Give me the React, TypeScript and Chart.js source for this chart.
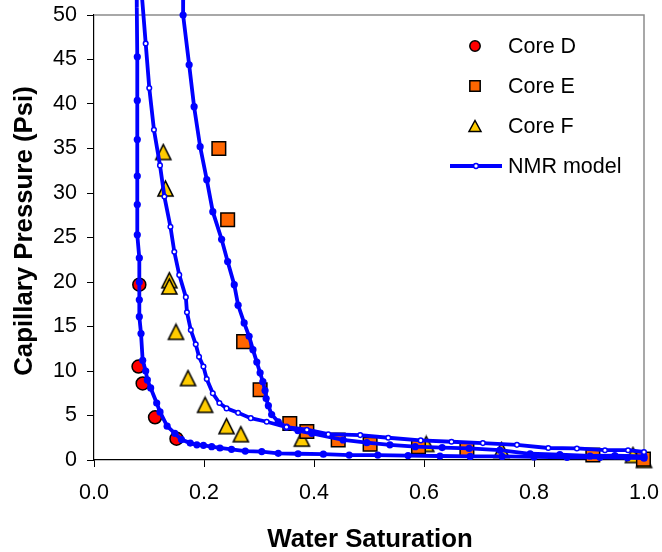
import React, { useEffect, useRef } from 'react';
import { Chart, registerables } from 'chart.js';

Chart.register(...registerables);

const FONT = '"Liberation Sans", Arial, Helvetica, sans-serif';

// ---- Data ----
const modelDSw = [0.077, 0.0778, 0.0787, 0.0787, 0.0787, 0.0787, 0.0787, 0.0787, 0.0824, 0.0824, 0.0824, 0.0824, 0.0855, 0.0885, 0.094, 0.097, 0.103, 0.114, 0.12, 0.133, 0.147, 0.159, 0.175, 0.187, 0.199, 0.214, 0.229, 0.25, 0.275, 0.305, 0.335, 0.371, 0.417, 0.464, 0.516, 0.571, 0.629, 0.684, 0.742, 0.8, 0.86, 0.92, 0.97, 1.0];
const modelDPc = [58, 50.8, 45.3, 40.4, 36.0, 31.9, 28.7, 25.3, 22.7, 20.0, 18.0, 16.1, 14.2, 11.2, 10.0, 9.0, 8.1, 6.4, 5.4, 3.8, 3.0, 2.3, 1.9, 1.7, 1.65, 1.5, 1.35, 1.2, 1.0, 0.95, 0.75, 0.7, 0.65, 0.55, 0.55, 0.5, 0.45, 0.4, 0.4, 0.35, 0.3, 0.3, 0.25, 0.2];

const modelFSw = [0.0873, 0.094, 0.1005, 0.109, 0.12, 0.128, 0.139, 0.146, 0.155, 0.167, 0.169, 0.176, 0.185, 0.191, 0.199, 0.205, 0.216, 0.228, 0.241, 0.262, 0.285, 0.314, 0.35, 0.387, 0.426, 0.484, 0.535, 0.594, 0.65, 0.707, 0.769, 0.826, 0.878, 0.929, 0.971, 1.0];
const modelFPc = [52, 46.8, 41.8, 37.1, 33.1, 29.6, 26.2, 23.4, 20.8, 18.3, 16.6, 14.6, 13.0, 11.6, 10.5, 9.1, 7.5, 6.4, 5.8, 5.3, 4.7, 4.3, 3.7, 3.4, 2.9, 2.8, 2.5, 2.2, 2.05, 1.9, 1.7, 1.35, 1.3, 1.1, 1.1, 0.9];

const modelESw = [0.1625, 0.162, 0.173, 0.182, 0.193, 0.205, 0.216, 0.232, 0.243, 0.255, 0.262, 0.273, 0.282, 0.289, 0.296, 0.302, 0.307, 0.311, 0.313, 0.317, 0.323, 0.335, 0.35, 0.371, 0.396, 0.453, 0.496, 0.538, 0.584, 0.633, 0.682, 0.738, 0.793, 0.847, 0.902, 0.947, 1.0];
const modelEPc = [56, 50, 44.4, 39.7, 35.2, 31.5, 27.9, 24.8, 22.3, 19.7, 17.4, 15.4, 13.9, 12.4, 11.0, 9.8, 8.8, 7.8, 6.9, 6.1, 5.1, 4.3, 3.7, 3.3, 3.0, 2.25, 1.95, 1.7, 1.5, 1.4, 1.3, 1.1, 0.7, 0.6, 0.45, 0.5, 0.4];

const coreDSw = [0.0824, 0.081, 0.0885, 0.111, 0.15];
const coreDPc = [19.7, 10.5, 8.6, 4.8, 2.4];

const coreESw = [0.227, 0.243, 0.272, 0.302, 0.356, 0.387, 0.444, 0.502, 0.59, 0.678, 0.907, 0.999];
const coreEPc = [35.0, 27.0, 13.3, 7.9, 4.1, 3.2, 2.25, 1.76, 1.5, 1.24, 0.56, 0.1];

const coreFSw = [0.126, 0.13, 0.137, 0.137, 0.149, 0.171, 0.202, 0.241, 0.267, 0.378, 0.604, 0.741, 0.98, 1.0];
const coreFPc = [34.6, 30.5, 20.2, 19.5, 14.4, 9.2, 6.2, 3.8, 2.9, 2.4, 1.8, 1.12, 0.56, 0.0];

const xTickValues = [0, 0.2, 0.4, 0.6, 0.8, 1.0];
const yTickValues = [0, 5, 10, 15, 20, 25, 30, 35, 40, 45, 50];
const legendLabels = ['Core D', 'Core E', 'Core F', 'NMR model'];
const xTitle = 'Water Saturation';
const yTitle = 'Capillary Pressure (Psi)';

const BLUE = '#0000FF';
const RED = '#FF0000';
const ORANGE = '#FF6600';
const YELLOW = '#FFCC00';

function pts(xs: number[], ys: number[]) {
  return xs.map((x, i) => ({ x, y: ys[i] }));
}

function triPath(ctx: CanvasRenderingContext2D, cx: number, cy: number, w: number, h: number) {
  ctx.moveTo(cx, cy - h / 2);
  ctx.lineTo(cx + w / 2, cy + h / 2);
  ctx.lineTo(cx - w / 2, cy + h / 2);
  ctx.closePath();
}

function makeTriangleImage(): HTMLCanvasElement {
  const c = document.createElement('canvas');
  c.width = 19;
  c.height = 19;
  const ctx = c.getContext('2d') as CanvasRenderingContext2D;
  ctx.beginPath();
  triPath(ctx, 9.5, 9.5, 15, 15);
  ctx.fillStyle = YELLOW;
  ctx.fill();
  ctx.lineWidth = 1.6;
  ctx.lineJoin = 'miter';
  ctx.strokeStyle = '#000';
  ctx.stroke();
  return c;
}

function drawMarker(ctx: CanvasRenderingContext2D, kind: string, x: number, y: number, fill: string) {
  ctx.save();
  ctx.fillStyle = fill;
  ctx.strokeStyle = '#000';
  ctx.lineWidth = 1.5;
  ctx.beginPath();
  if (kind === 'circle') {
    ctx.arc(x, y, 5.2, 0, Math.PI * 2);
  } else if (kind === 'rect') {
    ctx.rect(x - 5.2, y - 5.2, 10.4, 10.4);
  } else {
    triPath(ctx, x, y, 12, 11);
  }
  ctx.fill();
  ctx.stroke();
  ctx.restore();
}

const framePlugin = {
  id: 'frame',
  beforeDatasetsDraw(chart: any) {
    const { ctx, chartArea } = chart;
    ctx.save();
    ctx.strokeStyle = '#8c8c8c';
    ctx.lineWidth = 1.5;
    ctx.beginPath();
    ctx.moveTo(chartArea.left, chartArea.top);
    ctx.lineTo(chartArea.right, chartArea.top);
    ctx.lineTo(chartArea.right, chartArea.bottom);
    ctx.stroke();
    ctx.restore();
  },
};

const titlesPlugin = {
  id: 'axisTitles',
  afterDraw(chart: any) {
    const ctx: CanvasRenderingContext2D = chart.ctx;
    const { chartArea } = chart;
    ctx.save();
    ctx.fillStyle = '#000';
    ctx.font = `bold 25.8px ${FONT}`;
    ctx.textAlign = 'center';
    ctx.textBaseline = 'alphabetic';
    ctx.fillText(xTitle, (chartArea.left + chartArea.right) / 2 + 1, 546.5);
    ctx.translate(31.5, 231);
    ctx.rotate(-Math.PI / 2);
    ctx.fillText(yTitle, 0, 0);
    ctx.restore();
  },
};

const legendPlugin = {
  id: 'customLegend',
  afterDraw(chart: any) {
    const ctx: CanvasRenderingContext2D = chart.ctx;
    const mx = 475;
    const tx = 508;
    const ys = [46, 86, 126, 166];
    const kinds = ['circle', 'rect', 'triangle'];
    const fills = [RED, ORANGE, YELLOW];
    for (let i = 0; i < 3; i++) drawMarker(ctx, kinds[i], mx, ys[i], fills[i]);
    ctx.save();
    ctx.strokeStyle = BLUE;
    ctx.lineWidth = 3.8;
    ctx.beginPath();
    ctx.moveTo(450, ys[3]);
    ctx.lineTo(502, ys[3]);
    ctx.stroke();
    ctx.beginPath();
    ctx.arc(476, ys[3], 2.4, 0, Math.PI * 2);
    ctx.fillStyle = '#fff';
    ctx.fill();
    ctx.lineWidth = 1.5;
    ctx.stroke();
    ctx.fillStyle = '#000';
    ctx.font = `21.5px ${FONT}`;
    ctx.textBaseline = 'middle';
    ctx.textAlign = 'left';
    legendLabels.forEach((l, i) => ctx.fillText(l, tx, ys[i] + 1));
    ctx.restore();
  },
};

export default function App() {
  const ref = useRef<HTMLCanvasElement | null>(null);
  useEffect(() => {
    if (!ref.current) return;
    const triImg = makeTriangleImage();
    const modelCommon = {
      showLine: true,
      borderColor: BLUE,
      borderWidth: 3.8,
      tension: 0,
      clip: false as any,
      order: 0,
    };
    const chart = new Chart(ref.current, {
      type: 'scatter',
      data: {
        datasets: [
          {
            ...modelCommon,
            label: 'NMR model D',
            data: pts(modelDSw, modelDPc),
            pointRadius: 3.6,
            pointBackgroundColor: BLUE,
            pointBorderColor: BLUE,
            pointBorderWidth: 0,
          },
          {
            ...modelCommon,
            label: 'NMR model F',
            data: pts(modelFSw, modelFPc),
            pointRadius: 2.3,
            pointBackgroundColor: '#FFFFFF',
            pointBorderColor: BLUE,
            pointBorderWidth: 1.5,
          },
          {
            ...modelCommon,
            label: 'NMR model E',
            data: pts(modelESw, modelEPc),
            pointRadius: 3.6,
            pointBackgroundColor: BLUE,
            pointBorderColor: BLUE,
            pointBorderWidth: 0,
          },
          {
            label: legendLabels[0],
            data: pts(coreDSw, coreDPc),
            showLine: false,
            pointStyle: 'circle',
            pointRadius: 6.5,
            backgroundColor: RED,
            borderColor: '#000',
            pointBorderWidth: 1.5,
            clip: false as any,
            order: 1,
          },
          {
            label: legendLabels[1],
            data: pts(coreESw, coreEPc),
            showLine: false,
            pointStyle: 'rect',
            pointRadius: 9.6,
            backgroundColor: ORANGE,
            borderColor: '#000',
            pointBorderWidth: 1.5,
            clip: false as any,
            order: 1,
          },
          {
            label: legendLabels[2],
            data: pts(coreFSw, coreFPc),
            showLine: false,
            pointStyle: triImg,
            pointRadius: 9.5,
            backgroundColor: YELLOW,
            borderColor: '#000',
            pointBorderWidth: 1.5,
            clip: false as any,
            order: 1,
          },
        ],
      },
      options: {
        responsive: false,
        animation: false,
        events: [],
        layout: { padding: { top: 15, right: 18, left: 0, bottom: 0 } },
        plugins: {
          legend: { display: false },
          tooltip: { enabled: false },
        },
        scales: {
          x: {
            type: 'linear',
            min: 0,
            max: 1,
            afterBuildTicks: (scale: any) => {
              scale.ticks = xTickValues.map((v) => ({ value: v }));
            },
            afterFit: (scale: any) => {
              scale.height = 92;
              scale.paddingLeft = 0;
              scale.paddingRight = 0;
            },
            grid: {
              display: true,
              drawOnChartArea: false,
              drawTicks: true,
              tickLength: 7,
              color: '#000',
              tickWidth: 1,
            },
            border: { display: true, color: '#000', width: 1.2 },
            ticks: {
              color: '#000',
              font: { family: FONT, size: 21.5 },
              padding: 13,
              maxRotation: 0,
              callback: (v: any) => Number(v).toFixed(1),
            },
            title: { display: false },
          },
          y: {
            type: 'linear',
            min: 0,
            max: 50,
            afterBuildTicks: (scale: any) => {
              scale.ticks = yTickValues.map((v) => ({ value: v }));
            },
            afterFit: (scale: any) => {
              scale.width = 94;
              scale.paddingTop = 0;
              scale.paddingBottom = 0;
            },
            grid: {
              display: true,
              drawOnChartArea: false,
              drawTicks: true,
              tickLength: 7,
              color: '#000',
              tickWidth: 1,
            },
            border: { display: true, color: '#000', width: 1.2 },
            ticks: {
              color: '#000',
              font: { family: FONT, size: 21.5 },
              padding: 10,
              callback: (v: any) => String(v),
            },
            title: { display: false },
          },
        },
      },
      plugins: [framePlugin, titlesPlugin, legendPlugin],
    } as any);
    return () => chart.destroy();
  }, []);

  return (
    <div style={{ position: 'absolute', left: 0, top: 0, width: 662, height: 552, background: '#fff' }}>
      <canvas ref={ref} width={662} height={552} style={{ display: 'block' }} />
    </div>
  );
}
